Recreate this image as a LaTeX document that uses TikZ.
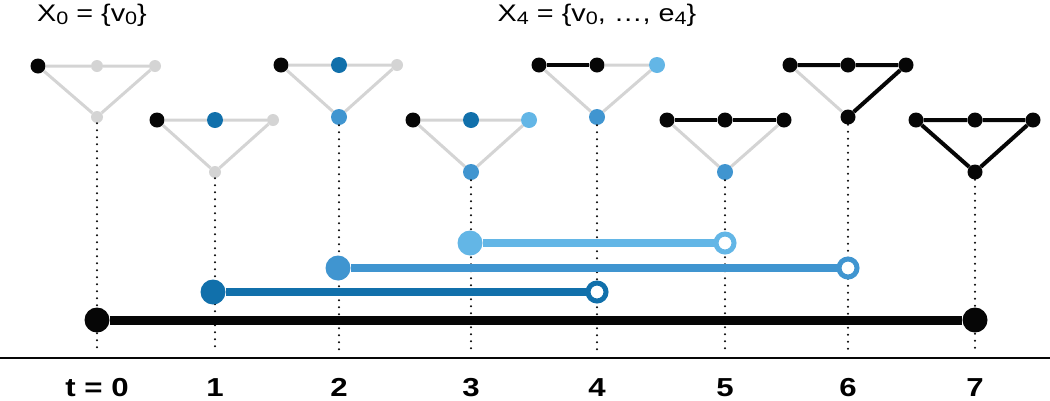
\documentclass[tikz,border=0pt]{standalone}
\usepackage{fontspec}
\setmainfont{Liberation Sans}[FakeStretch=1.2]
\usepackage{xcolor}
\usepackage{tikz}

\definecolor{pdark}{RGB}{17,112,171}
\definecolor{pmid}{RGB}{64,149,208}
\definecolor{plight}{RGB}{99,182,230}
\definecolor{pgray}{RGB}{212,212,212}
\definecolor{pblack}{RGB}{6,6,6}

\newcommand{\lowsub}[1]{\raisebox{-3pt}{\fontsize{18}{18}\selectfont #1}}

\tikzset{
  vx/.style={circle, inner sep=0pt, minimum size=15pt},
  vgray/.style={vx, fill=pgray, minimum size=12pt},
  vblack/.style={vx, fill=pblack},
  vdark/.style={vx, fill=pdark, minimum size=16pt},
  vmid/.style={vx, fill=pmid, minimum size=16pt},
  vlight/.style={vx, fill=plight, minimum size=16pt},
  gedge/.style={draw=pgray, line width=3pt},
  kedge/.style={draw=pblack, line width=4pt},
  guide/.style={draw=pblack, line width=2.2pt, line cap=round, dash pattern=on 0pt off 7pt},
  born/.style={circle, inner sep=0pt, minimum size=25pt, fill=#1},
  died/.style={circle, inner sep=0pt, minimum size=18pt, draw=#1, line width=5pt, fill=white},
  bar/.style={draw=#1, line width=7.5pt},
  toplab/.style={font=\fontsize{24}{27}\selectfont},
  tlab/.style={font=\fontsize{26}{29}\selectfont\bfseries, anchor=base, inner sep=0pt}
}

\begin{document}
\begin{tikzpicture}[x=1pt,y=-1pt]
\useasboundingbox (0,0) rectangle (1050,400);

\node[toplab] (lab0) at (92,15) {X\lowsub{0} = \{v\lowsub{0}\}};
\node[toplab] (lab4) at (597,15) {X\lowsub{4} = \{v\lowsub{0}, \dots, e\lowsub{4}\}};

% t = 0
\node[vblack] (l0) at (38,66) {};
\node[vgray] (m0) at (97,66) {};
\node[vgray] (r0) at (155,66) {};
\node[vgray] (b0) at (97,117) {};
\draw[gedge] (l0)--(m0) (m0)--(r0) (r0)--(b0) (b0)--(l0);

% t = 1
\node[vblack] (l1) at (157,120) {};
\node[vdark] (m1) at (215,120) {};
\node[vgray] (r1) at (273,120) {};
\node[vgray] (b1) at (215,172) {};
\draw[gedge] (l1)--(m1) (m1)--(r1) (r1)--(b1) (b1)--(l1);

% t = 2
\node[vblack] (l2) at (281,65) {};
\node[vdark] (m2) at (339,65) {};
\node[vgray] (r2) at (397,65) {};
\node[vmid] (b2) at (339,117) {};
\draw[gedge] (l2)--(m2) (m2)--(r2) (r2)--(b2) (b2)--(l2);

% t = 3
\node[vblack] (l3) at (413,120) {};
\node[vdark] (m3) at (471,120) {};
\node[vlight] (r3) at (529,120) {};
\node[vmid] (b3) at (471,172) {};
\draw[gedge] (l3)--(m3) (m3)--(r3) (r3)--(b3) (b3)--(l3);

% t = 4
\node[vblack] (l4) at (539,65) {};
\node[vblack] (m4) at (597,65) {};
\node[vlight] (r4) at (657,65) {};
\node[vmid] (b4) at (597,117) {};
\draw[gedge] (m4)--(r4) (r4)--(b4) (b4)--(l4);
\draw[kedge] (l4)--(m4);

% t = 5
\node[vblack] (l5) at (667,120) {};
\node[vblack] (m5) at (725,120) {};
\node[vblack] (r5) at (784,120) {};
\node[vmid] (b5) at (725,172) {};
\draw[gedge] (r5)--(b5) (b5)--(l5);
\draw[kedge] (l5)--(m5) (m5)--(r5);

% t = 6
\node[vblack] (l6) at (790,65) {};
\node[vblack] (m6) at (848,65) {};
\node[vblack] (r6) at (906,65) {};
\node[vblack] (b6) at (848,117) {};
\draw[gedge] (b6)--(l6);
\draw[kedge] (l6)--(m6) (m6)--(r6) (r6)--(b6);

% t = 7
\node[vblack] (l7) at (916,120) {};
\node[vblack] (m7) at (975,120) {};
\node[vblack] (r7) at (1033,120) {};
\node[vblack] (b7) at (975,172) {};
\draw[kedge] (l7)--(m7) (m7)--(r7) (r7)--(b7) (b7)--(l7);

% guides down to the axis
\coordinate (d0) at (97,352);
\coordinate (d1) at (215,352);
\coordinate (d2) at (339,352);
\coordinate (d3) at (471,352);
\coordinate (d4) at (597,352);
\coordinate (d5) at (725,352);
\coordinate (d6) at (848,352);
\coordinate (d7) at (975,352);
\draw[guide] (b0)--(d0);
\draw[guide] (b1)--(d1);
\draw[guide] (b2)--(d2);
\draw[guide] (b3)--(d3);
\draw[guide] (b4)--(d4);
\draw[guide] (b5)--(d5);
\draw[guide] (b6)--(d6);
\draw[guide] (b7)--(d7);

% bars
\node[born=pblack] (s0) at (97,320) {};
\node[born=pblack] (e0) at (975,320) {};
\draw[bar=pblack, line width=9pt] (s0)--(e0);

\node[born=pdark] (s1) at (213,292) {};
\node[died=pdark] (e1) at (597,292) {};
\draw[bar=pdark] (s1)--(e1);

\node[born=pmid] (s2) at (338,268) {};
\node[died=pmid] (e2) at (848,268) {};
\draw[bar=pmid] (s2)--(e2);

\node[born=plight] (s3) at (470,243) {};
\node[died=plight] (e3) at (725,243) {};
\draw[bar=plight] (s3)--(e3);

\coordinate (ax0) at (0,358);
\coordinate (ax1) at (1050,358);
\draw[pblack, line width=2pt] (ax0)--(ax1);

\node[tlab] (t0) at (97,396) {t = 0};
\node[tlab] (t1) at (215,396) {1};
\node[tlab] (t2) at (339,396) {2};
\node[tlab] (t3) at (471,396) {3};
\node[tlab] (t4) at (597,396) {4};
\node[tlab] (t5) at (725,396) {5};
\node[tlab] (t6) at (848,396) {6};
\node[tlab] (t7) at (975,396) {7};
\end{tikzpicture}
\end{document}
